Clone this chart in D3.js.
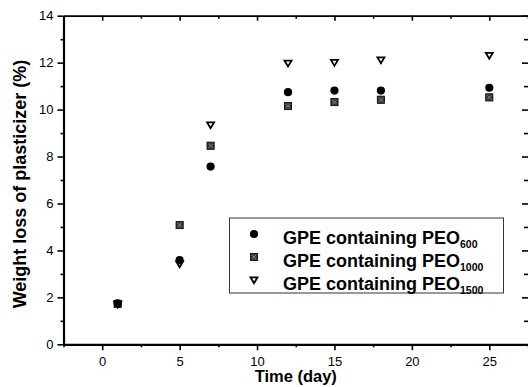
<!DOCTYPE html>
<html><head><meta charset="utf-8">
<script src="https://cdn.jsdelivr.net/npm/d3@7/dist/d3.min.js"></script>
<style>body{margin:0;background:#fff}svg{display:block}text{font-family:"Liberation Sans",Arial,sans-serif}</style>
</head><body><svg id="c" width="528" height="387"></svg>
<script>
const days = [1, 5, 7, 12, 15, 18, 25];
const peo600 = [1.75, 3.59, 7.57, 10.74, 10.81, 10.81, 10.93];
const peo1000 = [1.72, 5.08, 8.46, 10.15, 10.32, 10.42, 10.52];
const peo1500 = [1.70, 3.42, 9.34, 11.97, 12.0, 12.11, 12.3];
const seriesNames = ["600", "1000", "1500"];
const xTicks = [0, 5, 10, 15, 20, 25];
const yTicks = [0, 2, 4, 6, 8, 10, 12, 14];

const svg = d3.select("#c");
const L = 63.5, R = 528, T = 15.7, B = 344.3;
const x = d3.scaleLinear().domain([-2.5, 27.5]).range([L, R]);
const y = d3.scaleLinear().domain([0, 14]).range([B, T]);

const xMinor = d3.range(-2.5, 27.6, 2.5).filter(v => !xTicks.includes(v));
const yMinor = d3.range(1, 14, 2);

function styleAxis(g, w) {
  g.select(".domain").attr("stroke", w ? "#000" : "none").attr("stroke-width", w);
  g.selectAll(".tick line").attr("stroke", "#000").attr("stroke-width", 1.6);
  g.selectAll(".tick text").attr("font-size", 13).attr("fill", "#000")
    .attr("font-family", "'Liberation Sans',Arial,sans-serif");
}
// minor ticks
svg.append("g").attr("transform", `translate(0,${B})`)
  .call(d3.axisBottom(x).tickValues(xMinor).tickSize(3).tickFormat("")).call(g => styleAxis(g, 0));
svg.append("g").attr("transform", `translate(0,${T})`)
  .call(d3.axisBottom(x).tickValues(xMinor).tickSize(3).tickFormat("")).call(g => styleAxis(g, 0));
svg.append("g").attr("transform", `translate(${L},0)`)
  .call(d3.axisLeft(y).tickValues(yMinor).tickSize(3).tickFormat("")).call(g => styleAxis(g, 0));
svg.append("g").attr("transform", `translate(${R},0)`)
  .call(d3.axisLeft(y).tickValues(yMinor).tickSize(4).tickFormat("")).call(g => styleAxis(g, 0));

// major axes
svg.append("g").attr("transform", `translate(0,${T})`)
  .call(d3.axisBottom(x).tickValues(xTicks).tickSizeInner(5).tickSizeOuter(0).tickFormat(""))
  .call(g => styleAxis(g, 1.8));
svg.append("g").attr("transform", `translate(${R},0)`)
  .call(d3.axisLeft(y).tickValues(yTicks).tickSizeInner(6).tickSizeOuter(0).tickFormat(""))
  .call(g => styleAxis(g, 0));
svg.append("g").attr("transform", `translate(0,${B})`)
  .call(d3.axisBottom(x).tickValues(xTicks).tickSizeInner(6).tickSizeOuter(0).tickPadding(6))
  .call(g => styleAxis(g, 2.2));
svg.append("g").attr("transform", `translate(${L},0)`)
  .call(d3.axisLeft(y).tickValues(yTicks).tickSizeInner(6).tickSizeOuter(0).tickPadding(4))
  .call(g => styleAxis(g, 2.2));

// titles
svg.append("text").attr("x", (L + R) / 2).attr("y", 382).attr("text-anchor", "middle")
  .attr("font-size", 16.5).attr("font-weight", "bold").text("Time (day)");
svg.append("text").attr("transform", `translate(26,${(T + B) / 2 + 4}) rotate(-90)`)
  .attr("text-anchor", "middle").attr("font-size", 18).attr("font-weight", "bold")
  .text("Weight loss of plasticizer (%)");

// markers
function drawMarker(g, type, cx, cy) {
  if (type === 0) {
    g.append("circle").attr("cx", cx).attr("cy", cy).attr("r", 4.1).attr("fill", "#000");
  } else if (type === 1) {
    g.append("rect").attr("x", cx - 3.6).attr("y", cy - 3.6).attr("width", 7.2).attr("height", 7.2)
      .attr("fill", "#3a3a3a").attr("stroke", "#000").attr("stroke-width", 0.8);
    g.append("path").attr("d", `M${cx-2},${cy-2}L${cx+2},${cy+2}M${cx+2},${cy-2}L${cx-2},${cy+2}`)
      .attr("stroke", "#999").attr("stroke-width", 0.7);
  } else {
    g.append("path").attr("d", `M${cx-3.5},${cy-2.7}L${cx+3.5},${cy-2.7}L${cx},${cy+3.2}Z`)
      .attr("fill", "#fff").attr("stroke", "#000").attr("stroke-width", 1.8).attr("stroke-linejoin", "miter");
  }
}
const seriesData = [peo600, peo1000, peo1500];
const pts = svg.append("g");
[2, 1, 0].forEach(s => {
  days.forEach((d, i) => drawMarker(pts, s, x(d), y(seriesData[s][i])));
});

// legend
const lg = svg.append("g");
lg.append("rect").attr("x", 229.5).attr("y", 218).attr("width", 274).attr("height", 75)
  .attr("fill", "#fff").attr("stroke", "#333").attr("stroke-width", 1);
const rowsY = [234, 257, 280];
seriesNames.forEach((n, i) => {
  drawMarker(lg, i, 254, rowsY[i]);
  const t = lg.append("text").attr("x", 283).attr("y", rowsY[i] + 9.5)
    .attr("font-size", 18).attr("font-weight", "bold");
  t.append("tspan").text("GPE containing PEO");
  t.append("tspan").attr("font-size", 10.5).attr("dy", 4).text(n);
});
</script></body></html>
